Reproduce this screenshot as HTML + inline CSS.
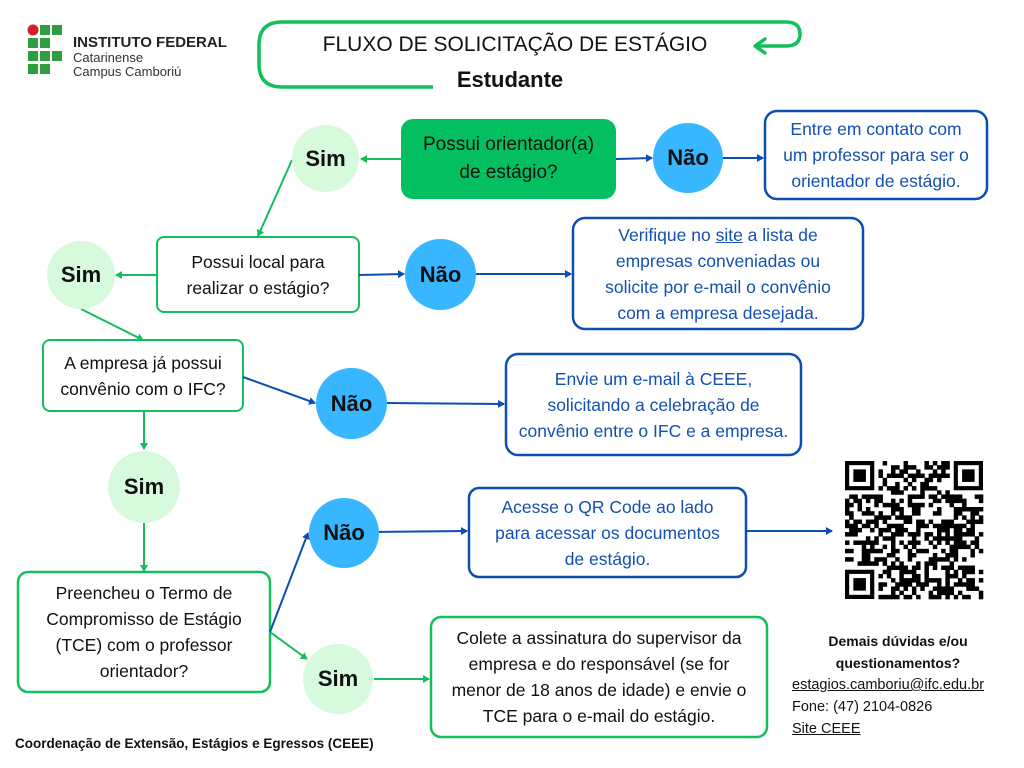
<!DOCTYPE html>
<html><head><meta charset="utf-8"><style>
html,body{margin:0;padding:0;background:#fff;}
body{width:1024px;height:768px;position:relative;overflow:hidden;font-family:"Liberation Sans",sans-serif;}
svg{position:absolute;left:0;top:0;}
.t{position:absolute;text-align:center;display:flex;align-items:center;justify-content:center;line-height:26px;font-size:17.5px;color:#111;}
.t>div{width:100%;}
.b{color:#1450b0;}
.c{position:absolute;border-radius:50%;display:flex;align-items:center;justify-content:center;font-weight:bold;font-size:22px;color:#111;}
.sim{background:#d7fadc;}
.nao{background:#38b6ff;}
</style></head><body>
<svg width="1024" height="768" viewBox="0 0 1024 768">
<defs>
<marker id="ag" markerWidth="8" markerHeight="8" refX="6" refY="4" orient="auto" markerUnits="userSpaceOnUse"><path d="M0,0 L7,4 L0,8 Z" fill="#12bf5b"/></marker>
<marker id="ab" markerWidth="8" markerHeight="8" refX="6" refY="4" orient="auto" markerUnits="userSpaceOnUse"><path d="M0,0 L7,4 L0,8 Z" fill="#0b4fb0"/></marker>
</defs>
<circle cx="33" cy="30" r="5.5" fill="#d4202a"/>
<g fill="#2f9e41">
<rect x="40" y="25" width="10" height="10"/><rect x="52" y="25" width="10" height="10"/>
<rect x="28" y="38" width="10" height="10"/><rect x="40" y="38" width="10" height="10"/>
<rect x="28" y="51" width="10" height="10"/><rect x="40" y="51" width="10" height="10"/><rect x="52" y="51" width="10" height="10"/>
<rect x="28" y="64" width="10" height="10"/><rect x="40" y="64" width="10" height="10"/>
</g>
<path d="M433 87 H282 Q259 87 259 64 V45 Q259 22 282 22 H786 Q800 22 800 34 Q800 46 786 46 H756" fill="none" stroke="#12bf5b" stroke-width="3.5"/>
<path d="M765 39 L755 46 L765 53" fill="none" stroke="#12bf5b" stroke-width="3.5" stroke-linecap="round" stroke-linejoin="round"/>
<rect x="401" y="119" width="215" height="80" rx="12" fill="#03bf5f"/>
<rect x="765" y="111" width="222" height="88" rx="12" fill="none" stroke="#0b4fb0" stroke-width="2.5"/>
<rect x="157" y="237" width="202" height="75" rx="7" fill="none" stroke="#12bf5b" stroke-width="2"/>
<rect x="573" y="218" width="290" height="111" rx="12" fill="none" stroke="#0b4fb0" stroke-width="2.5"/>
<rect x="43" y="340" width="200" height="71" rx="7" fill="none" stroke="#12bf5b" stroke-width="2"/>
<rect x="506" y="354" width="295" height="101" rx="12" fill="none" stroke="#0b4fb0" stroke-width="2.5"/>
<rect x="469" y="488" width="277" height="89" rx="10" fill="none" stroke="#0b4fb0" stroke-width="2.5"/>
<rect x="18" y="572" width="252" height="120" rx="10" fill="none" stroke="#12bf5b" stroke-width="2.5"/>
<rect x="431" y="617" width="336" height="120" rx="10" fill="none" stroke="#12bf5b" stroke-width="2.5"/>
<g stroke="#12bf5b" stroke-width="2" fill="none">
<line x1="401" y1="159" x2="361" y2="159" marker-end="url(#ag)"/>
<line x1="292" y1="160" x2="258" y2="236" marker-end="url(#ag)"/>
<line x1="157" y1="275" x2="116" y2="275" marker-end="url(#ag)"/>
<line x1="81" y1="309" x2="143" y2="340" marker-end="url(#ag)"/>
<line x1="144" y1="411" x2="144" y2="449" marker-end="url(#ag)"/>
<line x1="144" y1="523" x2="144" y2="571" marker-end="url(#ag)"/>
<line x1="270" y1="632" x2="307" y2="659" marker-end="url(#ag)"/>
<line x1="374" y1="679" x2="429" y2="679" marker-end="url(#ag)"/>
</g>
<g stroke="#0b4fb0" stroke-width="2" fill="none">
<line x1="616" y1="159" x2="652" y2="158" marker-end="url(#ab)"/>
<line x1="723" y1="158" x2="763" y2="158" marker-end="url(#ab)"/>
<line x1="359" y1="275" x2="404" y2="274" marker-end="url(#ab)"/>
<line x1="476" y1="274" x2="571" y2="274" marker-end="url(#ab)"/>
<line x1="243" y1="377" x2="315" y2="403" marker-end="url(#ab)"/>
<line x1="387" y1="403" x2="504" y2="404" marker-end="url(#ab)"/>
<line x1="270" y1="632" x2="308" y2="533" marker-end="url(#ab)"/>
<line x1="373" y1="532" x2="467" y2="531" marker-end="url(#ab)"/>
<line x1="747" y1="531" x2="832" y2="531" marker-end="url(#ab)"/>
</g>
<g id="qr"></g>
</svg>

<div style="position:absolute;left:73px;top:34px;font-weight:bold;font-size:15px;line-height:17px;color:#222;">INSTITUTO FEDERAL</div>
<div style="position:absolute;left:73px;top:51px;font-size:13px;line-height:14px;color:#333;">Catarinense<br>Campus Camboriú</div>

<div class="t" style="left:290px;top:32px;width:450px;height:26px;font-size:21px;"><div>FLUXO DE SOLICITAÇÃO DE ESTÁGIO</div></div>
<div class="t" style="left:410px;top:66px;width:200px;height:28px;font-size:22px;font-weight:bold;"><div>Estudante</div></div>

<div class="t" style="left:401px;top:119px;width:215px;height:80px;font-size:19px;line-height:28px;"><div>Possui orientador(a)<br>de estágio?</div></div>
<div class="t b" style="left:765px;top:111px;width:222px;height:88px;"><div>Entre em contato com<br>um professor para ser o<br>orientador de estágio.</div></div>
<div class="t" style="left:157px;top:237px;width:202px;height:75px;"><div>Possui local para<br>realizar o estágio?</div></div>
<div class="t b" style="left:573px;top:218px;width:290px;height:111px;"><div>Verifique no <u>site</u> a lista de<br>empresas conveniadas ou<br>solicite por e-mail o convênio<br>com a empresa desejada.</div></div>
<div class="t" style="left:43px;top:340px;width:200px;height:71px;"><div>A empresa já possui<br>convênio com o IFC?</div></div>
<div class="t b" style="left:506px;top:354px;width:295px;height:101px;"><div>Envie um e-mail à CEEE,<br>solicitando a celebração de<br>convênio entre o IFC e a empresa.</div></div>
<div class="t b" style="left:469px;top:488px;width:277px;height:89px;"><div>Acesse o QR Code ao lado<br>para acessar os documentos<br>de estágio.</div></div>
<div class="t" style="left:18px;top:572px;width:252px;height:120px;"><div>Preencheu o Termo de<br>Compromisso de Estágio<br>(TCE) com o professor<br>orientador?</div></div>
<div class="t" style="left:431px;top:617px;width:336px;height:120px;"><div>Colete a assinatura do supervisor da<br>empresa e do responsável (se for<br>menor de 18 anos de idade) e envie o<br>TCE para o e-mail do estágio.</div></div>

<div class="c sim" style="left:292px;top:125px;width:67px;height:67px;">Sim</div>
<div class="c nao" style="left:653px;top:123px;width:70px;height:70px;">Não</div>
<div class="c sim" style="left:47px;top:241px;width:68px;height:68px;">Sim</div>
<div class="c nao" style="left:405px;top:239px;width:71px;height:71px;">Não</div>
<div class="c nao" style="left:316px;top:368px;width:71px;height:71px;">Não</div>
<div class="c sim" style="left:108px;top:451px;width:72px;height:72px;">Sim</div>
<div class="c nao" style="left:309px;top:498px;width:70px;height:70px;">Não</div>
<div class="c sim" style="left:303px;top:644px;width:70px;height:70px;">Sim</div>

<div style="position:absolute;left:792px;top:630px;width:212px;text-align:center;font-weight:bold;font-size:14px;line-height:22px;color:#111;">Demais dúvidas e/ou<br>questionamentos?</div>
<div style="position:absolute;left:792px;top:674px;font-size:14.5px;line-height:22px;color:#111;"><u>estagios.camboriu@ifc.edu.br</u><br>Fone: (47) 2104-0826<br><u>Site CEEE</u></div>
<div style="position:absolute;left:15px;top:736px;font-weight:bold;font-size:13.5px;color:#111;">Coordenação de Extensão, Estágios e Egressos (CEEE)</div>

<script>
(function(){
var g=document.getElementById('qr'),ns='http://www.w3.org/2000/svg';
var x0=845,y0=461,n=33,s=138/33,seed=12345;
function r(){seed=(seed*1103515245+12345)&0x7fffffff;return seed/0x7fffffff;}
function rect(x,y,w,h,f){var e=document.createElementNS(ns,'rect');e.setAttribute('x',x);e.setAttribute('y',y);e.setAttribute('width',w);e.setAttribute('height',h);e.setAttribute('fill',f);g.appendChild(e);}
function finder(i,j){rect(x0+i*s,y0+j*s,7*s,7*s,'#000');rect(x0+(i+1)*s,y0+(j+1)*s,5*s,5*s,'#fff');rect(x0+(i+2)*s,y0+(j+2)*s,3*s,3*s,'#000');}
for(var j=0;j<n;j++)for(var i=0;i<n;i++){
 if((i<8&&j<8)||(i>=n-8&&j<8)||(i<8&&j>=n-8))continue;
 if(r()<0.5)rect(x0+i*s,y0+j*s,s+0.3,s+0.3,'#000');}
finder(0,0);finder(n-7,0);finder(0,n-7);
})();
</script>
</body></html>
